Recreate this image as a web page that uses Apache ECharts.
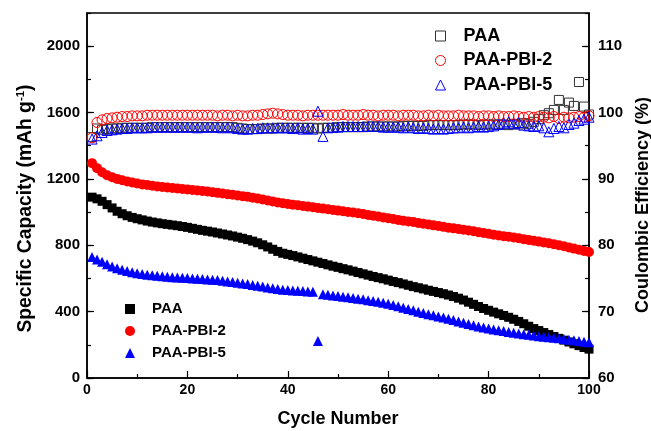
<!DOCTYPE html>
<html>
<head>
<meta charset="utf-8">
<script src="https://cdn.jsdelivr.net/npm/echarts@6/dist/echarts.min.js"></script>
<style>html,body{margin:0;padding:0;background:#fff;}#c{width:651px;height:431px;}</style>
</head>
<body>
<div id="c"></div>
<script>
// Cycle numbers 1..100
const cycles = Array.from({length: 100}, (_, i) => i + 1);

// Specific capacity (mAh g-1)
const capPAA = [1090,1080,1065,1045,1025,1005,990,978,968,960,
  953,946,940,935,930,926,922,918,913,908,
  902,896,890,885,880,874,868,862,856,849,
  842,834,825,815,803,790,776,763,752,745,
  738,730,722,714,706,698,690,682,674,667,
  659,652,644,636,628,620,612,605,598,590,
  582,575,567,559,551,544,537,529,522,515,
  508,500,491,481,470,457,444,431,419,408,
  397,387,377,366,354,341,327,312,298,286,
  274,262,250,239,228,217,206,195,184,174];
const capPBI2 = [1295,1265,1240,1222,1210,1200,1192,1185,1178,1172,
  1167,1163,1159,1155,1151,1148,1145,1142,1139,1136,
  1133,1130,1127,1124,1120,1116,1112,1108,1104,1100,
  1096,1092,1087,1082,1076,1070,1064,1058,1053,1049,
  1045,1041,1037,1033,1029,1025,1021,1017,1013,1009,
  1005,1001,997,993,988,983,978,973,968,963,
  958,953,948,944,940,935,930,925,920,916,
  911,906,902,898,894,889,884,879,874,869,
  864,859,855,851,847,842,837,832,827,822,
  817,812,806,800,794,787,780,773,766,759];
const capPBI5 = [729,715,700,685,672,662,653,645,638,632,
  627,623,620,617,614,611,608,606,604,602,
  600,598,596,594,592,590,586,582,578,574,
  570,566,561,556,551,546,541,536,532,530,
  528,526,524,522,520,223,505,502,498,494,
  490,486,482,478,474,469,464,459,453,447,
  440,432,424,416,408,400,392,385,378,371,
  364,357,349,341,333,325,318,311,305,299,
  293,288,283,278,273,268,264,260,256,252,
  248,245,242,239,235,231,227,223,219,215];

// Coulombic efficiency (%)
const cePAA = [96.3,97.6,97.4,97.5,97.6,97.6,97.7,97.7,97.7,97.7,
  97.7,97.7,97.8,97.8,97.8,97.8,97.8,97.8,97.8,97.8,
  97.8,97.8,97.8,97.8,97.8,97.8,97.8,97.8,97.8,97.7,
  97.6,97.5,97.5,97.5,97.6,97.6,97.6,97.7,97.7,97.7,
  97.7,97.7,97.7,97.7,97.7,97.6,97.7,97.7,97.7,97.8,
  97.8,97.8,97.8,97.8,97.8,97.9,97.9,97.9,97.9,97.9,
  97.9,97.9,98.0,98.0,98.0,98.0,98.0,98.1,98.1,98.1,
  98.1,98.1,98.1,98.1,98.2,98.2,98.2,98.1,98.2,98.2,
  98.2,98.2,98.2,98.1,98.3,98.2,98.4,98.3,98.6,99.0,
  99.6,99.9,100.4,101.9,100.4,101.5,101.0,104.6,100.9,99.7];
const cePBI2 = [96.2,98.5,98.9,99.1,99.2,99.3,99.4,99.4,99.5,99.5,
  99.5,99.6,99.6,99.6,99.6,99.6,99.6,99.6,99.6,99.6,
  99.6,99.6,99.6,99.6,99.6,99.5,99.6,99.6,99.5,99.6,
  99.5,99.5,99.6,99.6,99.7,99.8,99.9,99.8,99.7,99.6,
  99.6,99.6,99.5,99.6,99.6,99.6,99.6,99.6,99.6,99.6,
  99.7,99.6,99.6,99.6,99.7,99.6,99.6,99.5,99.6,99.6,
  99.6,99.5,99.6,99.6,99.6,99.5,99.5,99.6,99.5,99.6,
  99.5,99.5,99.5,99.6,99.5,99.5,99.5,99.4,99.5,99.5,
  99.4,99.5,99.4,99.4,99.5,99.4,99.3,99.4,99.3,99.4,
  99.3,99.2,99.4,99.1,99.3,99.2,99.3,99.4,99.3,99.5];
const cePBI5 = [96.0,96.5,97.0,97.3,97.4,97.5,97.6,97.6,97.7,97.7,
  97.7,97.7,97.8,97.8,97.8,97.8,97.8,97.8,97.8,97.8,
  97.8,97.7,97.8,97.8,97.8,97.8,97.7,97.8,97.7,97.6,
  97.5,97.5,97.6,97.6,97.7,97.7,97.7,97.7,97.7,97.7,
  97.6,97.7,97.5,97.6,97.5,100.2,96.4,97.7,97.8,97.8,
  97.9,97.9,97.9,97.9,97.9,97.9,97.9,97.9,97.8,97.8,
  97.8,97.8,97.7,97.8,97.7,97.6,97.7,97.6,97.5,97.6,
  97.5,97.6,97.7,97.7,97.8,97.7,97.8,97.9,97.8,97.9,
  98.0,98.2,98.4,98.6,98.3,98.5,98.1,98.0,97.9,98.0,
  97.7,97.1,97.6,97.9,97.7,98.2,98.4,98.8,99.0,99.3];

const seriesNames = ['PAA', 'PAA-PBI-2', 'PAA-PBI-5'];
const xTicks = {min: 0, max: 100, interval: 20};
const capTicks = {min: 0, max: 2200, interval: 400};
const ceTicks = {min: 60, max: 115, interval: 10};

const FONT = "'Liberation Sans', Arial, sans-serif";
const pair = (ys) => cycles.map((c, i) => [c, ys[i]]);
const axisLineStyle = {color: '#000', width: 1.5};
const plain = (v) => String(v);

const chart = echarts.init(document.getElementById('c'), null, {renderer: 'canvas'});

function capSeries(name, data, symbol, color, size) {
  return {name: name, type: 'scatter', xAxisIndex: 0, yAxisIndex: 0, data: pair(data),
    symbol: symbol, symbolSize: size, itemStyle: {color: color, opacity: 1}, z: 3, silent: true};
}
function ceSeries(name, data, symbol, color, size) {
  return {name: name + ' CE', type: 'scatter', xAxisIndex: 0, yAxisIndex: 1, data: pair(data),
    symbol: symbol, symbolSize: size,
    itemStyle: {color: 'rgba(0,0,0,0)', borderColor: color, borderWidth: 1, opacity: 1}, z: 2, silent: true};
}

const option = {
  animation: false,
  backgroundColor: '#fff',
  grid: {left: 87, right: 62, top: 13, bottom: 53, outerBoundsMode: 'none', containLabel: false,
    show: true, borderColor: '#000', borderWidth: 1.5, backgroundColor: 'transparent'},
  xAxis: [{
    type: 'value', min: xTicks.min, max: xTicks.max, interval: xTicks.interval,
    axisLine: {show: true, lineStyle: axisLineStyle},
    axisTick: {show: true, inside: true, length: 7, lineStyle: {color: '#000', width: 1.2}},
    minorTick: {show: true, splitNumber: 2, length: 4, lineStyle: {color: '#000', width: 1.2}},
    splitLine: {show: false},
    axisLabel: {margin: 5, formatter: plain, color: '#000', fontFamily: FONT, fontWeight: 'bold', fontSize: 14},
    name: 'Cycle Number', nameLocation: 'middle', nameGap: 32,
    nameTextStyle: {color: '#000', fontFamily: FONT, fontWeight: 'bold', fontSize: 18}
  }],
  yAxis: [{
    type: 'value', position: 'left', min: capTicks.min, max: capTicks.max, interval: capTicks.interval,
    axisLine: {show: true, lineStyle: axisLineStyle},
    axisTick: {show: true, inside: true, length: 7, lineStyle: {color: '#000', width: 1.2}},
    splitLine: {show: false},
    axisLabel: {margin: 7, formatter: plain, showMaxLabel: false, color: '#000', fontFamily: FONT, fontWeight: 'bold', fontSize: 15},
    name: 'Specific Capacity (mAh g{sup|-1})', nameLocation: 'middle', nameGap: 51,
    nameTextStyle: {color: '#000', fontFamily: FONT, fontWeight: 'bold', fontSize: 19.3, padding: [0, 26, 0, 0],
      rich: {sup: {fontSize: 11.5, fontWeight: 'bold', fontFamily: FONT, color: '#000', verticalAlign: 'top', padding: [0, 0, 9, 0]}}}
  }, {
    type: 'value', position: 'right', min: ceTicks.min, max: ceTicks.max, interval: ceTicks.interval,
    axisLine: {show: true, lineStyle: axisLineStyle},
    axisTick: {show: true, inside: true, length: 7, lineStyle: {color: '#000', width: 1.2}},
    splitLine: {show: false},
    axisLabel: {margin: 9, formatter: plain, showMaxLabel: false, color: '#000', fontFamily: FONT, fontWeight: 'bold', fontSize: 15},
    name: 'Coulombic Efficiency (%)', nameLocation: 'middle', nameGap: 44,
    nameTextStyle: {color: '#000', fontFamily: FONT, fontWeight: 'bold', fontSize: 18, padding: [0, 19, 0, 0]}
  }, {
    type: 'value', position: 'left', min: capTicks.min, max: capTicks.max, interval: capTicks.interval / 2,
    axisLine: {show: false}, axisLabel: {show: false}, splitLine: {show: false},
    axisTick: {show: true, inside: true, length: 4, lineStyle: {color: '#000', width: 1.2}}
  }, {
    type: 'value', position: 'right', min: ceTicks.min, max: ceTicks.max, interval: ceTicks.interval / 2,
    axisLine: {show: false}, axisLabel: {show: false}, splitLine: {show: false},
    axisTick: {show: true, inside: true, length: 4, lineStyle: {color: '#000', width: 1.2}}
  }],
  legend: [{
    orient: 'vertical', left: 430, top: 21, itemWidth: 10, itemHeight: 10, itemGap: 4.5,
    selectedMode: false,
    formatter: (n) => n.replace(' CE', ''),
    textStyle: {color: '#000', fontFamily: FONT, fontWeight: 'bold', fontSize: 18, lineHeight: 20, padding: [0, 0, 0, 13]},
    data: [
      {name: 'PAA CE', icon: 'rect', itemStyle: {color: 'rgba(0,0,0,0)', borderColor: '#333', borderWidth: 1}},
      {name: 'PAA-PBI-2 CE', icon: 'circle', itemStyle: {color: 'rgba(0,0,0,0)', borderColor: '#ff0000', borderWidth: 1}},
      {name: 'PAA-PBI-5 CE', icon: 'triangle', itemStyle: {color: 'rgba(0,0,0,0)', borderColor: '#0000ff', borderWidth: 1}}
    ]
  }, {
    orient: 'vertical', left: 120, top: 295, itemWidth: 10, itemHeight: 10, itemGap: 4,
    selectedMode: false,
    textStyle: {color: '#000', fontFamily: FONT, fontWeight: 'bold', fontSize: 15, lineHeight: 18, padding: [0, 0, 0, 12]},
    data: [
      {name: 'PAA', icon: 'rect', itemStyle: {color: '#000'}},
      {name: 'PAA-PBI-2', icon: 'circle', itemStyle: {color: '#ff0000'}},
      {name: 'PAA-PBI-5', icon: 'triangle', itemStyle: {color: '#0000ff'}}
    ]
  }],
  series: [
    ceSeries(seriesNames[0], cePAA, 'rect', '#333', 9),
    ceSeries(seriesNames[1], cePBI2, 'circle', '#ff0000', 10),
    ceSeries(seriesNames[2], cePBI5, 'triangle', '#0000ff', 10),
    capSeries(seriesNames[0], capPAA, 'rect', '#000', 9),
    capSeries(seriesNames[1], capPBI2, 'circle', '#ff0000', 10),
    capSeries(seriesNames[2], capPBI5, 'triangle', '#0000ff', 10)
  ]
};
chart.setOption(option);
</script>
</body>
</html>
